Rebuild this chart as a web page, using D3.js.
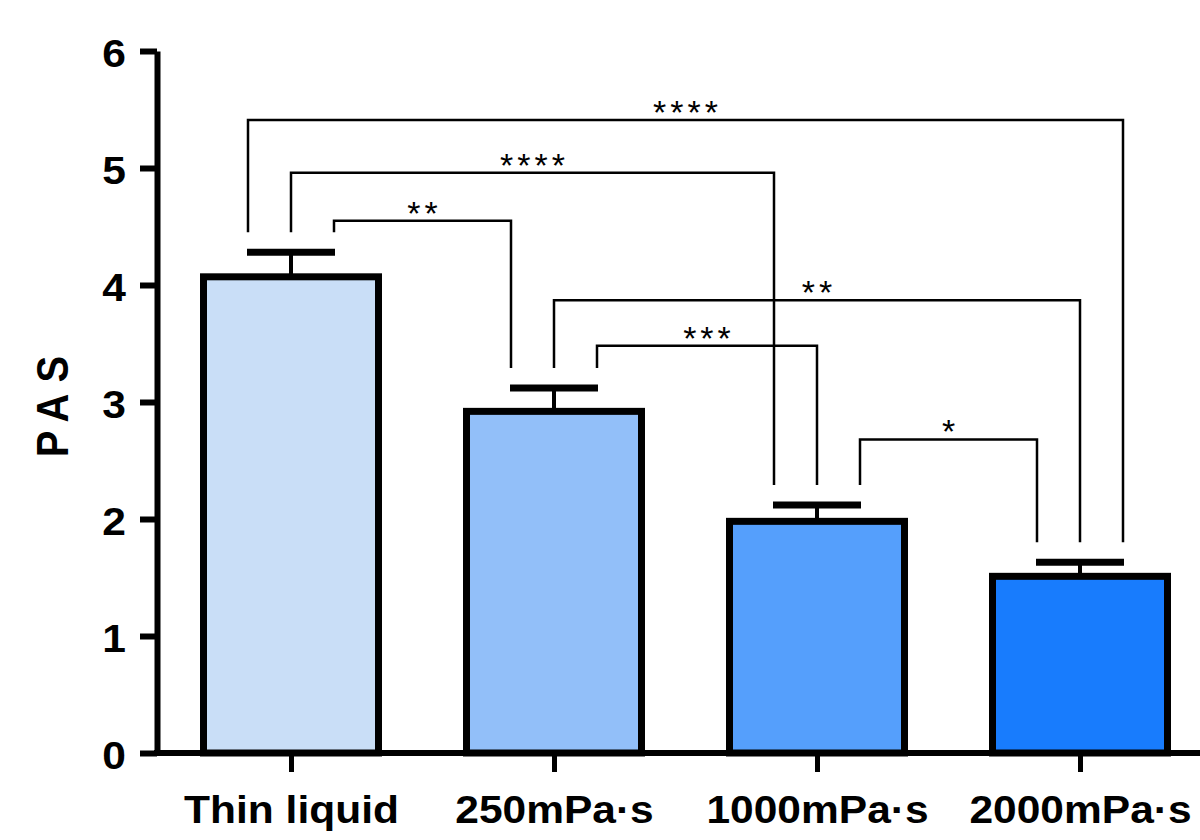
<!DOCTYPE html>
<html>
<head>
<meta charset="utf-8">
<script src="https://cdn.jsdelivr.net/npm/d3@7"></script>
<style>
  body { margin: 0; background: #fff; }
  text { font-family: "Liberation Sans", Arial, sans-serif; }
</style>
</head>
<body>
<script>
var w = 1200;
var h = 840;

// groups, means and error (SEM)
var categories = ["Thin liquid", "250mPa\u00b7s", "1000mPa\u00b7s", "2000mPa\u00b7s"];
var means = [4.07, 2.92, 1.98, 1.51];
var errors = [0.21, 0.20, 0.14, 0.12];
var colors = ["#c9def7", "#92bff9", "#559ffc", "#187cfd"];
var yTicks = [0, 1, 2, 3, 4, 5, 6];

// significance brackets: [from, to, stars, bracket height, slot at from, slot at to]
var brackets = [
  [0, 3, "****", 5.41, -1, 1],
  [0, 2, "****", 4.96, 0, -1],
  [0, 1, "**", 4.55, 1, -1],
  [1, 3, "**", 3.87, 0, 0],
  [1, 2, "***", 3.48, 1, 0],
  [2, 3, "*", 2.68, 1, -1]
];

var barWidth = 175;
var slotGap = 43;

var svg = d3.select("body")
  .append("svg")
  .attr("width", w)
  .attr("height", h);

var x = d3.scalePoint()
  .domain(categories)
  .range([291, 1080]);

var y = d3.scaleLinear()
  .domain([0, 6])
  .range([753, 51]);

var bars = categories.map(function(c, i) {
  return { name: c, mean: means[i], err: errors[i], color: colors[i] };
});

// error bars (drawn first so the bar outline sits on top of the stem)
var errG = svg.append("g").attr("id", "errors");
errG.selectAll("line.stem")
  .data(bars).enter().append("line")
  .attr("x1", function(d) { return x(d.name); })
  .attr("x2", function(d) { return x(d.name); })
  .attr("y1", function(d) { return y(d.mean); })
  .attr("y2", function(d) { return y(d.mean + d.err); })
  .attr("stroke", "#000")
  .attr("stroke-width", 4);
errG.selectAll("line.cap")
  .data(bars).enter().append("line")
  .attr("x1", function(d) { return x(d.name) - 44; })
  .attr("x2", function(d) { return x(d.name) + 44; })
  .attr("y1", function(d) { return y(d.mean + d.err); })
  .attr("y2", function(d) { return y(d.mean + d.err); })
  .attr("stroke", "#000")
  .attr("stroke-width", 7);

// bars
svg.append("g").attr("id", "bars")
  .selectAll("rect")
  .data(bars).enter().append("rect")
  .attr("x", function(d) { return x(d.name) - barWidth / 2; })
  .attr("y", function(d) { return y(d.mean); })
  .attr("width", barWidth)
  .attr("height", function(d) { return y(0) - y(d.mean); })
  .attr("fill", function(d) { return d.color; })
  .attr("stroke", "#000")
  .attr("stroke-width", 7);

// brackets
var brG = svg.append("g").attr("id", "brackets");
function endBottom(i) { return y(means[i] + errors[i]) - 20; }

brG.selectAll("path")
  .data(brackets).enter().append("path")
  .attr("d", function(d) {
    var xa = x(categories[d[0]]) + d[4] * slotGap;
    var xb = x(categories[d[1]]) + d[5] * slotGap;
    var yh = y(d[3]);
    return "M" + xa + "," + endBottom(d[0]) + "V" + yh + "H" + xb + "V" + endBottom(d[1]);
  })
  .attr("fill", "none")
  .attr("stroke", "#000")
  .attr("stroke-width", 2.5);

brG.selectAll("text")
  .data(brackets).enter().append("text")
  .attr("x", function(d) {
    var xa = x(categories[d[0]]) + d[4] * slotGap;
    var xb = x(categories[d[1]]) + d[5] * slotGap;
    return (xa + xb) / 2 + 2;
  })
  .attr("y", function(d) { return y(d[3]) + 4; })
  .attr("text-anchor", "middle")
  .attr("font-size", 34)
  .attr("letter-spacing", 4)
  .text(function(d) { return d[2]; });

// y axis
var yAxis = svg.append("g")
  .attr("transform", "translate(157,0)")
  .call(d3.axisLeft(y).tickValues(yTicks).tickSize(17).tickSizeOuter(0).tickFormat(d3.format("d")));
yAxis.select(".domain").attr("stroke-width", 6);
yAxis.selectAll(".tick line").attr("stroke-width", 6);
yAxis.selectAll(".tick text").remove();
yAxis.selectAll(".tick").append("text")
  .attr("transform", "translate(-31,15) scale(1.12,1)")
  .attr("text-anchor", "end")
  .attr("font-size", 38)
  .attr("font-weight", "bold")
  .attr("fill", "#000")
  .text(function(d) { return d; });

// x axis
var xAxis = svg.append("g")
  .attr("transform", "translate(0," + y(0) + ")")
  .call(d3.axisBottom(x).tickSize(19).tickSizeOuter(0));
xAxis.select(".domain").remove();
xAxis.append("line")
  .attr("x1", 154).attr("x2", w)
  .attr("y1", 0).attr("y2", 0)
  .attr("stroke", "#000")
  .attr("stroke-width", 6);
xAxis.selectAll(".tick line").attr("stroke-width", 5);
xAxis.selectAll(".tick text").remove();
xAxis.selectAll(".tick").append("text")
  .attr("transform", "translate(0,70) scale(1.09,1)")
  .attr("text-anchor", "middle")
  .attr("font-size", 39)
  .attr("font-weight", "bold")
  .attr("fill", "#000")
  .text(function(d) { return d; });

// y axis title
svg.append("text")
  .attr("transform", "translate(68,406) rotate(-90) scale(1,1.12)")
  .attr("text-anchor", "middle")
  .attr("font-size", 40)
  .attr("font-weight", "bold")
  .attr("letter-spacing", 11)
  .attr("dx", 5)
  .text("PAS");
</script>
</body>
</html>
